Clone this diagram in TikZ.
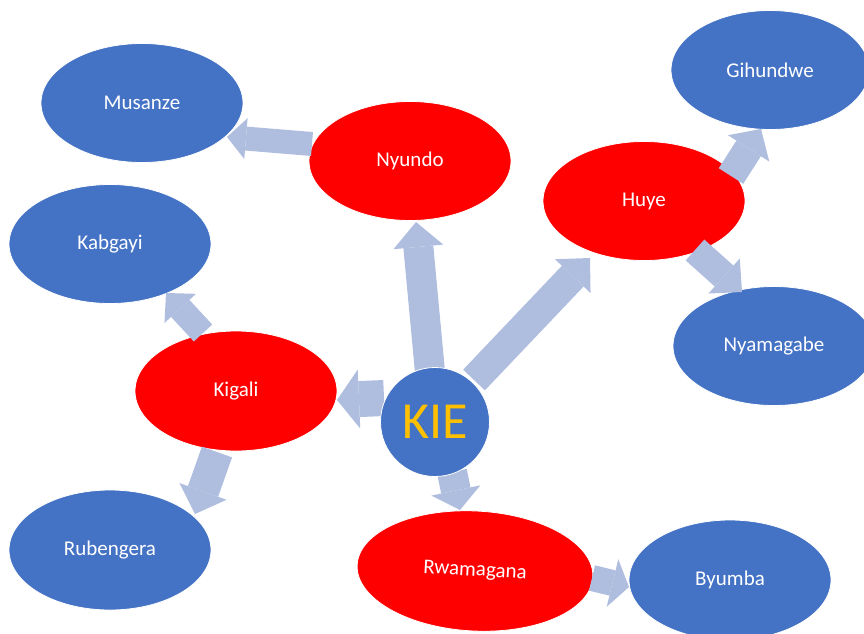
\documentclass[tikz,border=0pt]{standalone}
\usepackage{fontspec}
\setmainfont{Carlito}
\usetikzlibrary{shapes.geometric,arrows.meta}
\definecolor{cityblue}{RGB}{68,114,196}
\definecolor{cityred}{RGB}{255,0,0}
\definecolor{arrowc}{RGB}{175,189,223}
\definecolor{kiegold}{RGB}{255,192,0}
\tikzset{
  city/.style={ellipse, minimum width=202pt, minimum height=119pt, inner sep=0pt,
    text=white, font=\fontsize{21}{25}\selectfont, draw=white, line width=0.8pt},
  bluecity/.style={city, fill=cityblue},
  redcity/.style={city, fill=cityred},
  blk/.style n args={3}{line width=#1, draw=arrowc,
    -{Triangle[width=#2,length=#3,line width=0pt]}}
}
\begin{document}
\begin{tikzpicture}[x=1pt,y=-1pt]
\useasboundingbox (0,0) rectangle (864,633);
% outer ellipses
\node[bluecity] (musanze) at (142,103) {Musanze};
\node[bluecity, minimum width=198pt] (gihundwe) at (770,70) {Gihundwe};
\node[bluecity] (kabgayi) at (110,244) {Kabgayi};
\node[bluecity] (nyamagabe) at (774,346) {Nyamagabe};
\node[bluecity, minimum height=120pt] (rubengera) at (110,550) {Rubengera};
\node[bluecity, minimum height=120pt] (byumba) at (730,580) {Byumba};
% inner red ellipses
\node[redcity] (nyundo) at (410,161) {Nyundo};
\node[redcity] (huye) at (644,201) {Huye};
\node[redcity, minimum height=120pt] (kigali) at (236,391) {Kigali};
\node[redcity, minimum width=236pt, minimum height=120pt, rotate=-3] (rwamagana) at (475,571) {Rwamagana};
% arrow end points
\coordinate (t1) at (430,372); \coordinate (h1) at (416,222);
\coordinate (t2) at (474,380); \coordinate (h2) at (590,258);
\coordinate (t3) at (384,398); \coordinate (h3) at (337,400);
\coordinate (t4) at (203,333); \coordinate (h4) at (166,293);
\coordinate (t5) at (217,452); \coordinate (h5) at (195,514);
\coordinate (t6) at (312,144); \coordinate (h6) at (227,137);
\coordinate (t7) at (731,176); \coordinate (h7) at (761,129);
\coordinate (t8) at (695,250); \coordinate (h8) at (742,292);
\coordinate (t9) at (452,472); \coordinate (h9) at (460,510);
\coordinate (t10) at (592,578); \coordinate (h10) at (629,587);
% arrows
\draw[blk={30pt}{50pt}{25pt}] (t1) -- (h1);
\draw[blk={30pt}{49pt}{25pt}] (t2) -- (h2);
\draw[blk={36pt}{59pt}{22pt}] (t3) -- (h3);
\draw[blk={25pt}{43pt}{21pt}] (t4) -- (h4);
\draw[blk={32pt}{50pt}{24pt}] (t5) -- (h5);
\draw[blk={24pt}{41pt}{19pt}] (t6) -- (h6);
\draw[blk={29pt}{49pt}{23pt}] (t7) -- (h7);
\draw[blk={28pt}{47pt}{24pt}] (t8) -- (h8);
\draw[blk={30pt}{50pt}{20pt}] (t9) -- (h9);
\draw[blk={26pt}{49pt}{17pt}] (t10) -- (h10);
% centre
\node[circle, minimum size=109pt, inner sep=0pt, fill=cityblue, draw=white, line width=0.8pt,
  text=kiegold, font=\fontsize{52}{60}\selectfont] (kie) at (435,422) {KIE};
\end{tikzpicture}
\end{document}
